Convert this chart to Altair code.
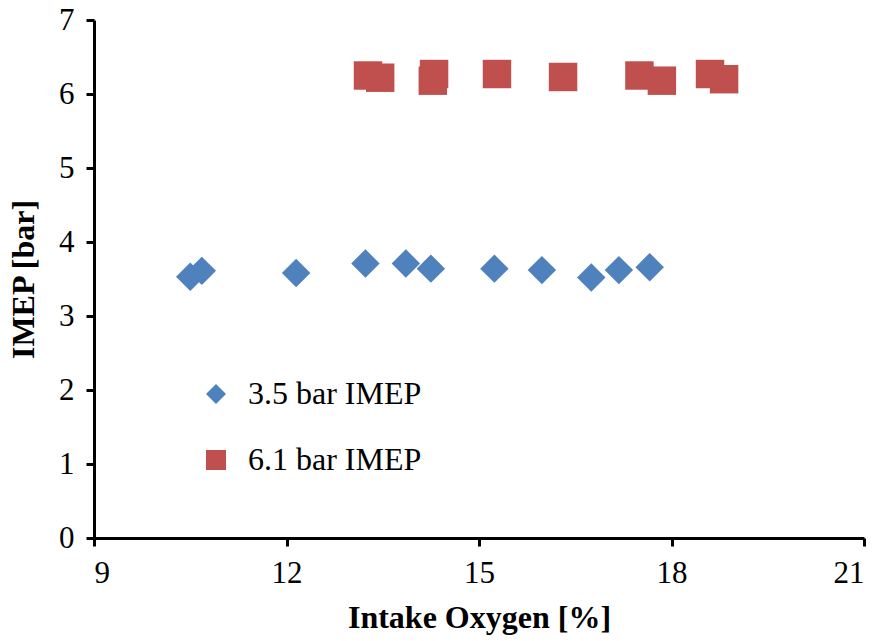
import altair as alt
import pandas as pd

series_a = "3.5 bar IMEP"
series_b = "6.1 bar IMEP"

a_x = [10.50, 10.68, 12.15, 13.23, 13.86, 14.25, 15.24, 15.98, 16.75, 17.18, 17.66]
a_y = [3.53, 3.61, 3.58, 3.71, 3.71, 3.64, 3.64, 3.62, 3.52, 3.62, 3.66]

b_x = [13.27, 13.46, 14.30, 14.28, 15.28, 16.31, 17.50, 17.85, 18.60, 18.82]
b_y = [6.25, 6.22, 6.27, 6.18, 6.27, 6.23, 6.25, 6.18, 6.27, 6.20]

x_ticks = [9, 12, 15, 18, 21]
y_ticks = [0, 1, 2, 3, 4, 5, 6, 7]

df = pd.DataFrame({
    "x": a_x + b_x,
    "y": a_y + b_y,
    "series": [series_a] * len(a_x) + [series_b] * len(b_x),
})

FONT = "Liberation Serif"

legend = alt.Legend(title=None, orient="none", legendX=106, legendY=358,
                    symbolSize=400, labelOffset=16, rowPadding=34,
                    labelFont=FONT, labelFontSize=32, labelColor="black",
                    padding=0, symbolStrokeWidth=0, labelLimit=400)

chart = alt.Chart(df).mark_point(filled=True, size=810, opacity=1).encode(
    x=alt.X("x:Q", scale=alt.Scale(domain=[9, 21], nice=False, zero=False),
            axis=alt.Axis(title="Intake Oxygen [%]", values=x_ticks, labelPadding=12,
                          titlePadding=14)),
    y=alt.Y("y:Q", scale=alt.Scale(domain=[0, 7], nice=False),
            axis=alt.Axis(title="IMEP [bar]", values=y_ticks, labelPadding=12,
                          titlePadding=18)),
    color=alt.Color("series:N",
                    scale=alt.Scale(domain=[series_a, series_b], range=["#4F81BD", "#C0504D"]),
                    legend=legend),
    shape=alt.Shape("series:N",
                    scale=alt.Scale(domain=[series_a, series_b], range=["diamond", "square"]),
                    legend=legend),
).properties(
    width=770, height=518,
    autosize=alt.AutoSizeParams(type="none"),
    padding={"left": 94, "top": 20, "right": 20, "bottom": 103},
).configure(
    font=FONT, background="white"
).configure_view(
    stroke=None
).configure_axis(
    grid=False,
    domainColor="black", domainWidth=3,
    tickColor="black", tickWidth=3, tickSize=8,
    labelFont=FONT, labelFontSize=31, labelColor="black",
    titleFont=FONT, titleFontSize=32, titleFontWeight="bold", titleColor="black",
).configure_legend(
    labelFont=FONT, labelFontSize=32, labelColor="black",
)

chart.save("out.html", embed_options={"renderer": "svg", "actions": False})
